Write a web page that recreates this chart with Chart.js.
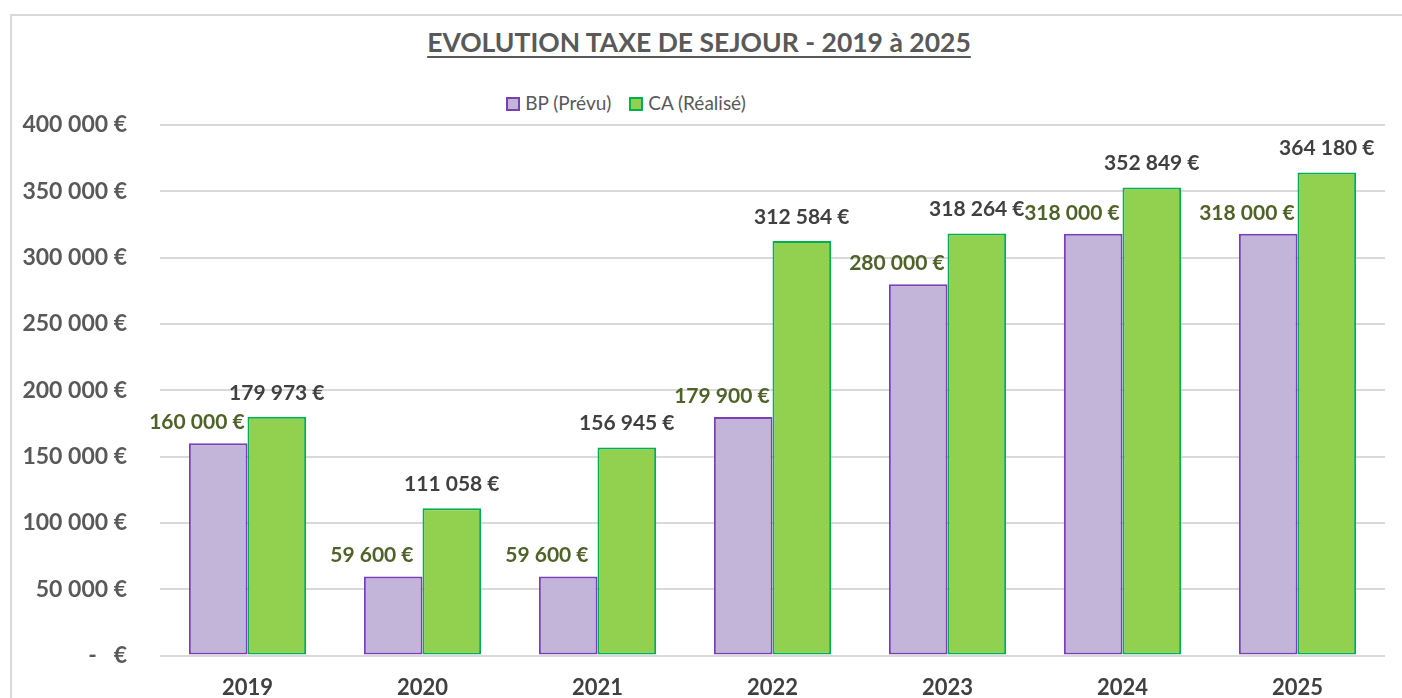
<!DOCTYPE html>
<html lang="fr">
<head>
<meta charset="utf-8">
<script src="https://cdn.jsdelivr.net/npm/chart.js@4.4.1/dist/chart.umd.min.js"></script>
<style>
    body { margin: 0; background: #fff; overflow: hidden; }
    #wrap { position: relative; width: 1402px; height: 698px; overflow: hidden; }
    #frame { position: absolute; left: 10px; top: 14px; right: 0; bottom: 0;
             border-left: 2px solid #d9d9d9; border-top: 2px solid #d9d9d9; }
    #chartTitle { position: absolute; left: 0; top: 26px; width: 1398px; text-align: center;
                  font: bold 26.5px Lato, sans-serif; color: #595959;
                  text-decoration: underline; text-decoration-thickness: 2px; text-underline-offset: 4px; }
    #chartLegend { position: absolute; left: 0; top: 91px; width: 1252px; text-align: center;
                   font: 19px Lato, sans-serif; color: #595959; }
    #chartLegend span.item { margin: 0 9px; }
    #chartLegend span.box { display: inline-block; width: 10px; height: 10px; margin-right: 5px; vertical-align: -1px; }
    canvas { position: absolute; left: 0; top: 0; }
</style>
</head>
<body>
<div id="wrap">
    <div id="frame"></div>
    <div id="chartTitle">EVOLUTION TAXE DE SEJOUR - 2019 à 2025</div>
    <div id="chartLegend"></div>
    <canvas id="taxeSejourChart" width="1402" height="720"></canvas>
</div>
<script>
const years = ["2019", "2020", "2021", "2022", "2023", "2024", "2025"];
const bpValues = [160000, 59600, 59600, 179900, 280000, 318000, 318000];
const caValues = [179973, 111058, 156945, 312584, 318264, 352849, 364180];
const yMin = 0;
const yMax = 400000;
const yStep = 50000;

function formatEuro(val) {
    if (val === 0) return "-   €";
    return String(val).replace(/\B(?=(\d{3})+(?!\d))/g, " ") + " €";
}

// labels drawn over the bars, BP ones sit at the left top corner like in Excel
const barLabels = {
    id: "barLabels",
    afterDatasetsDraw(chart) {
        const ctx = chart.ctx;
        chart.data.datasets.forEach((ds, i) => {
            const meta = chart.getDatasetMeta(i);
            meta.data.forEach((bar, j) => {
                let x = bar.x;
                let y = bar.y - 24;
                if (i === 0) {
                    x = bar.x - bar.width / 2 + 8;
                    y = bar.y - 21;
                }
                ctx.save();
                ctx.font = "bold 21px Lato, sans-serif";
                ctx.fillStyle = ds.labelColor;
                ctx.textAlign = "center";
                ctx.textBaseline = "middle";
                ctx.fillText(formatEuro(ds.data[j]), x, y);
                ctx.restore();
            });
        });
    }
};

const chart = new Chart(document.getElementById("taxeSejourChart"), {
    type: "bar",
    data: {
        labels: years,
        datasets: [
            {
                label: "BP (Prévu)",
                data: bpValues,
                backgroundColor: "#c3b4d9",
                borderColor: "#7b3fb5",
                borderWidth: 2,
                borderSkipped: false,
                labelColor: "#4f6228"
            },
            {
                label: "CA (Réalisé)",
                data: caValues,
                backgroundColor: "#92d050",
                borderColor: "#00b050",
                borderWidth: 2,
                borderSkipped: false,
                labelColor: "#404040"
            }
        ]
    },
    options: {
        responsive: false,
        animation: false,
        layout: { padding: { top: 125, left: 10, right: 17, bottom: 0 } },
        plugins: {
            legend: { display: false },
            title: { display: false },
            tooltip: { enabled: false }
        },
        datasets: {
            bar: { categoryPercentage: 0.67, barPercentage: 1.0 }
        },
        scales: {
            x: {
                grid: { display: false, drawTicks: false },
                border: { display: false },
                ticks: {
                    color: "#404040",
                    padding: 19,
                    font: { family: "Lato", size: 22, weight: "bold" }
                }
            },
            y: {
                min: yMin,
                max: yMax,
                afterFit(scale) { scale.width = 150; },
                grid: { color: "#d9d9d9", lineWidth: 2, drawTicks: false },
                border: { display: false },
                ticks: {
                    stepSize: yStep,
                    color: "#595959",
                    padding: 33,
                    font: { family: "Lato", size: 23, weight: "bold" },
                    callback: (v) => formatEuro(v)
                }
            }
        }
    },
    plugins: [barLabels]
});

// html legend so it can sit off-centre as in the original
const legendEl = document.getElementById("chartLegend");
chart.data.datasets.forEach((ds) => {
    const item = document.createElement("span");
    item.className = "item";
    const box = document.createElement("span");
    box.className = "box";
    box.style.background = ds.backgroundColor;
    box.style.border = "2px solid " + ds.borderColor;
    item.appendChild(box);
    item.appendChild(document.createTextNode(ds.label));
    legendEl.appendChild(item);
});
</script>
</body>
</html>
